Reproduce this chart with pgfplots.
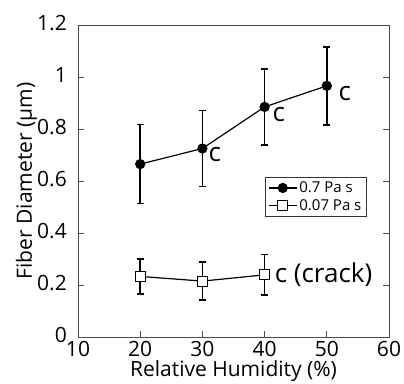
\documentclass[border=0pt]{standalone}
\usepackage{pgfplots}
\pgfplotsset{compat=1.18}
\usepackage{fontspec}
\setmainfont{Open Sans}
\begin{document}
\begin{tikzpicture}
\begin{axis}[
  scale only axis, width=311pt, height=312pt,
  xmin=10, xmax=60, ymin=0, ymax=1.2,
  xtick={10,20,30,40,50,60}, ytick={0,0.2,0.4,0.6,0.8,1,1.2},
  tick align=inside, xtick pos=bottom, ytick pos=both,
  major tick length=6pt,
  axis line style={draw=black!70, line width=0.8pt},
  tick style={draw=black!70, line width=0.8pt},
  /pgf/number format/assume math mode=true,
  ticklabel style={font=\fontsize{21}{23}\selectfont, inner sep=1pt},
  xticklabel style={yshift=-3pt},
  yticklabel style={xshift=-10pt, yshift=2pt},
  yticklabel style={/pgf/number format/fixed, /pgf/number format/precision=1},
  xlabel={Relative Humidity (\%)},
  ylabel={Fiber Diameter (μm)},
  label style={font=\fontsize{21}{23}\selectfont},
  xlabel style={at={(axis description cs:0.5,-0.128)}, anchor=base},
  ylabel style={at={(axis description cs:-0.148,0.5)}, anchor=base},
  legend style={at={(axis cs:56.4,0.617)}, anchor=north east, font=\fontsize{15}{17}\selectfont, draw=black!80, inner sep=3pt, row sep=1pt},
  legend image code/.code={\draw[mark repeat=2,mark phase=2,#1] plot coordinates {(0pt,0pt) (14pt,0pt) (28pt,0pt)};},
  legend cell align=left,
  clip=false,
]
\addplot+[black, line width=1.2pt, mark=*, mark size=4.5pt, mark options={fill=black},
  error bars/.cd, y dir=both, y explicit, error bar style={line width=1.5pt}, error mark options={rotate=90, mark size=3.5pt, line width=1.5pt}]
  coordinates {(20,0.665) +- (0,0.152) (30,0.725) +- (0,0.146) (40,0.885) +- (0,0.146) (50,0.966) +- (0,0.150)};
\addlegendentry{0.7 Pa s}
\addplot+[black, line width=1.2pt, mark=square*, mark size=5pt, mark options={fill=white, line width=1.2pt},
  error bars/.cd, y dir=both, y explicit, error bar style={line width=1.5pt}, error mark options={rotate=90, mark size=3.5pt, line width=1.5pt}]
  coordinates {(20,0.233) +- (0,0.067) (30,0.215) +- (0,0.073) (40,0.239) +- (0,0.078)};
\addlegendentry{0.07 Pa s}
\node[font=\fontsize{26}{28}\selectfont, inner sep=0pt] at (axis cs:32.0,0.70) {c};
\node[font=\fontsize{26}{28}\selectfont, inner sep=0pt] at (axis cs:42.3,0.854) {c};
\node[font=\fontsize{26}{28}\selectfont, inner sep=0pt] at (axis cs:52.9,0.935) {c};
\node[font=\fontsize{26}{28}\selectfont, anchor=west, inner sep=0pt] at (axis cs:41.6,0.238) {c (crack)};
\end{axis}
\pgfresetboundingbox
\useasboundingbox (-78pt,-46pt) rectangle (326pt,337pt);
\end{tikzpicture}
\end{document}
